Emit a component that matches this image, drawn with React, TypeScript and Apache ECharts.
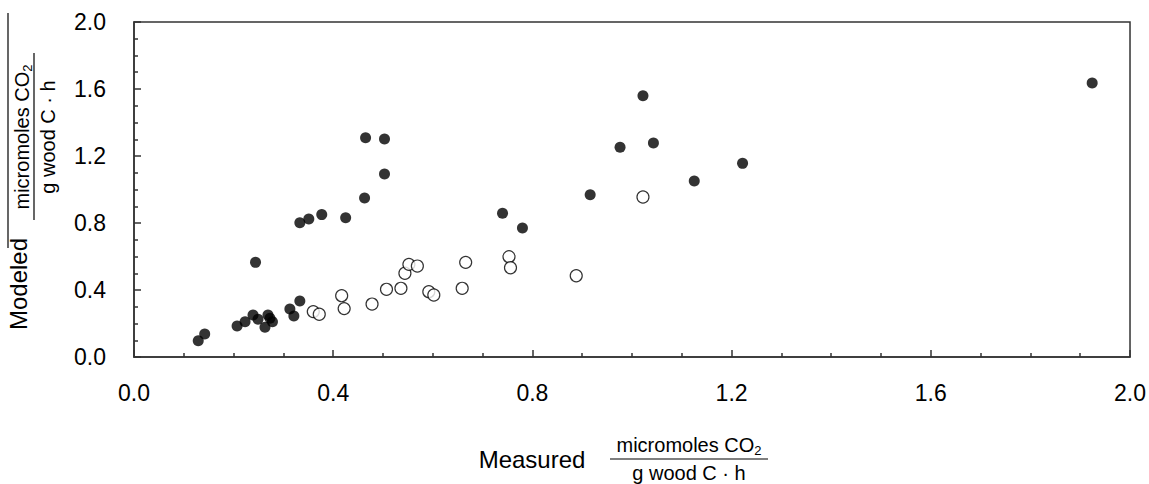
import React, { useEffect, useRef } from "react";
import * as echarts from "echarts";

const filledMeasured = [1.924, 1.022, 0.976, 1.043, 1.222, 1.125, 0.916, 0.74, 0.78, 0.465, 0.503, 0.503, 0.463, 0.425, 0.377, 0.351, 0.333, 0.244, 0.333, 0.313, 0.321, 0.273, 0.278, 0.263, 0.269, 0.239, 0.249, 0.223, 0.207, 0.142, 0.129];
const filledModeled = [1.636, 1.56, 1.252, 1.278, 1.156, 1.051, 0.969, 0.858, 0.77, 1.309, 1.301, 1.093, 0.949, 0.832, 0.85, 0.824, 0.802, 0.565, 0.334, 0.287, 0.245, 0.231, 0.211, 0.177, 0.251, 0.251, 0.225, 0.211, 0.185, 0.137, 0.097];
const openMeasured = [0.36, 0.372, 0.417, 0.422, 0.478, 0.507, 0.536, 0.544, 0.552, 0.569, 0.592, 0.602, 0.659, 0.666, 0.753, 0.756, 0.888, 1.022];
const openModeled = [0.271, 0.255, 0.366, 0.289, 0.316, 0.404, 0.41, 0.5, 0.553, 0.543, 0.39, 0.37, 0.41, 0.565, 0.599, 0.533, 0.485, 0.955];

const axisMin = 0;
const axisMax = 2;
const axisStep = 0.4;

const FONT = "Liberation Sans, Arial, sans-serif";
const INK = "#333";

const richFrac = {
  a: { fontSize: 20, fontFamily: FONT, color: "#000", lineHeight: 24 },
  sub: { fontSize: 13, fontFamily: FONT, color: "#000", lineHeight: 12, verticalAlign: "bottom" as const },
};

export default function App() {
  const ref = useRef<HTMLDivElement>(null);
  useEffect(() => {
    if (!ref.current) return;
    const chart = echarts.init(ref.current, undefined, { renderer: "svg" });
    const axisCommon = {
      type: "value" as const,
      min: axisMin,
      max: axisMax,
      interval: axisStep,
      axisLine: { show: true, lineStyle: { color: INK, width: 1.5 } },
      axisTick: { show: true, inside: true, length: 7, lineStyle: { color: INK, width: 1.5 } },
      minorTick: { show: true, splitNumber: 4, length: 4, lineStyle: { color: INK, width: 1.5 } },
      splitLine: { show: false },
      minorSplitLine: { show: false },
    };
    chart.setOption({
      animation: false,
      backgroundColor: "#fff",
      grid: { left: 134, right: 18, top: 22, bottom: 127, show: true, borderColor: INK, borderWidth: 1.5, backgroundColor: "transparent" },
      xAxis: {
        ...axisCommon,
        axisLabel: { formatter: (v: number) => v.toFixed(1), fontSize: 23, color: "#000", margin: 24, fontFamily: FONT },
      },
      yAxis: {
        ...axisCommon,
        axisLabel: { formatter: (v: number) => v.toFixed(1), fontSize: 23, color: "#000", margin: 28, fontFamily: FONT },
      },
      series: [
        {
          type: "scatter",
          data: openMeasured.map((x, i) => [x, openModeled[i]]),
          symbol: "circle",
          symbolSize: 12,
          itemStyle: { color: "#fff", borderColor: "#000", borderWidth: 1.2 },
        },
        {
          type: "scatter",
          data: filledMeasured.map((x, i) => [x, filledModeled[i]]),
          symbol: "circle",
          symbolSize: 11,
          itemStyle: { color: "#000" },
        },
      ],
      graphic: [
        { type: "text", x: 532, y: 459, style: { text: "Measured", fontSize: 24, fontFamily: FONT, fill: "#000", align: "center", verticalAlign: "middle" } },
        { type: "text", x: 689, y: 445, style: { text: "{a|micromoles CO}{sub|2}", rich: richFrac, align: "center", verticalAlign: "middle" } },
        { type: "line", shape: { x1: 610, y1: 459, x2: 768, y2: 459 }, style: { stroke: "#000", lineWidth: 1.2 } },
        { type: "text", x: 689, y: 473, style: { text: "g wood C · h", fontSize: 20, fontFamily: FONT, fill: "#000", align: "center", verticalAlign: "middle" } },
        { type: "text", x: 18, y: 284, rotation: Math.PI / 2, style: { text: "Modeled", fontSize: 24, fontFamily: FONT, fill: "#000", align: "center", verticalAlign: "middle" } },
        { type: "text", x: 22, y: 137, rotation: Math.PI / 2, style: { text: "{a|micromoles CO}{sub|2}", rich: richFrac, align: "center", verticalAlign: "middle" } },
        { type: "line", shape: { x1: 34, y1: 53, x2: 34, y2: 220 }, style: { stroke: "#000", lineWidth: 1.2 } },
        { type: "text", x: 48, y: 137, rotation: Math.PI / 2, style: { text: "g wood C · h", fontSize: 20, fontFamily: FONT, fill: "#000", align: "center", verticalAlign: "middle" } },
        { type: "line", shape: { x1: 8, y1: 13, x2: 8, y2: 248 }, style: { stroke: "#000", lineWidth: 1.2 } },
      ],
    });
    return () => chart.dispose();
  }, []);
  return <div ref={ref} style={{ position: "fixed", left: 0, top: 0, width: 1149, height: 484 }} />;
}
